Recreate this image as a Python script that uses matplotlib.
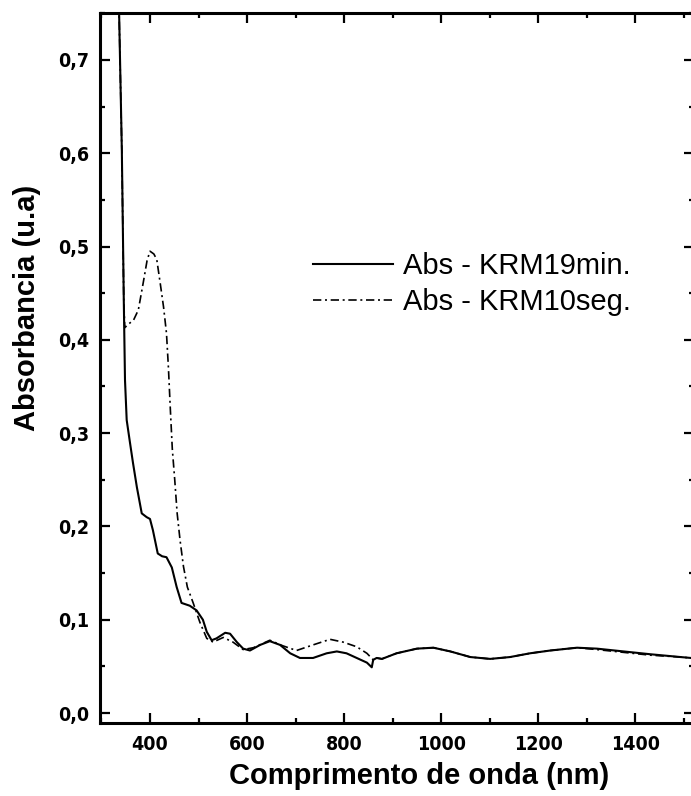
import matplotlib
matplotlib.use("Agg")
import matplotlib.pyplot as plt
from matplotlib import font_manager
from matplotlib.ticker import MultipleLocator, FixedLocator, FuncFormatter

# UV-Vis-NIR absorbance spectra of the two KRM samples
wl_19min = [336, 342, 346, 348.5, 352, 359, 365, 373, 383, 393, 400, 406, 416,
            425, 434, 445, 455, 465, 482, 496, 509, 517, 527, 537, 555, 565,
            579, 592, 606, 627, 647, 668, 689, 709, 736, 764, 785, 805, 826,
            847, 857, 860, 867, 878, 908, 950, 984, 1019, 1060, 1101, 1142,
            1183, 1225, 1280, 1321, 1376, 1431, 1493, 1515]
abs_19min = [0.760, 0.603, 0.443, 0.357, 0.314, 0.289, 0.268, 0.242, 0.214,
             0.210, 0.208, 0.196, 0.171, 0.168, 0.167, 0.156, 0.135, 0.118,
             0.115, 0.110, 0.100, 0.087, 0.078, 0.080, 0.086, 0.085, 0.076,
             0.069, 0.067, 0.073, 0.077, 0.073, 0.064, 0.059, 0.059, 0.064,
             0.066, 0.064, 0.059, 0.054, 0.049, 0.057, 0.059, 0.058, 0.064,
             0.069, 0.070, 0.066, 0.060, 0.058, 0.060, 0.064, 0.067, 0.070,
             0.069, 0.066, 0.063, 0.060, 0.059]

wl_10seg = [336, 342, 346, 348, 356, 366, 376, 386, 394, 400, 408, 414, 421,
            428, 434, 438, 442, 446, 451, 456, 462, 469, 477, 489, 503, 517,
            530, 551, 571, 592, 613, 647, 674, 702, 736, 771, 798, 826, 847,
            860, 867, 878, 908, 950, 984, 1019, 1060, 1101, 1142, 1183, 1225,
            1280, 1321, 1376, 1431, 1493, 1515]
abs_10seg = [0.760, 0.603, 0.443, 0.413, 0.417, 0.421, 0.432, 0.461, 0.485,
             0.495, 0.492, 0.486, 0.461, 0.435, 0.407, 0.370, 0.325, 0.283,
             0.250, 0.214, 0.185, 0.157, 0.135, 0.118, 0.097, 0.080, 0.076,
             0.081, 0.076, 0.068, 0.070, 0.078, 0.072, 0.067, 0.073, 0.079,
             0.076, 0.071, 0.064, 0.057, 0.059, 0.058, 0.064, 0.069, 0.070,
             0.066, 0.060, 0.058, 0.060, 0.064, 0.067, 0.070, 0.068, 0.065,
             0.062, 0.060, 0.059]

labels = ["Abs - KRM19min.", "Abs - KRM10seg."]
x_major = [400, 600, 800, 1000, 1200, 1400]
y_major = [0.0, 0.1, 0.2, 0.3, 0.4, 0.5, 0.6, 0.7]
x_title = "Comprimento de onda (nm)"
y_title = "Absorbancia (u.a)"


def tick_font():
    """Prefer a narrow bold sans for the tick numbers, else plain bold."""
    for f in font_manager.fontManager.ttflist:
        if f.name == "Liberation Sans Narrow" and f.weight in (700, "bold"):
            return font_manager.FontProperties(fname=f.fname, size=15)
    for f in font_manager.fontManager.ttflist:
        if f.name == "DejaVu Sans" and f.stretch == "condensed" and f.weight in (700, "bold") \
                and f.style == "normal":
            return font_manager.FontProperties(fname=f.fname, size=14)
    return font_manager.FontProperties(family="Liberation Sans", weight="bold", size=13.5)


W, H = 691, 796
fig = plt.figure(figsize=(W / 100, H / 100), dpi=100)
left, right, top, bottom = 100, 694, 13, 723
ax = fig.add_axes([left / W, 1 - bottom / H, (right - left) / W, (bottom - top) / H])

ax.plot(wl_19min, abs_19min, color="black", lw=1.5, label=labels[0])
ax.plot(wl_10seg, abs_10seg, color="black", lw=1.2,
        linestyle=(0, (5, 2.2, 1.2, 2.2)), label=labels[1])

ax.set_xlim(297, 1521)
ax.set_ylim(-0.0107, 0.7503)

ax.xaxis.set_major_locator(FixedLocator(x_major))
ax.xaxis.set_minor_locator(MultipleLocator(100))
ax.yaxis.set_major_locator(FixedLocator(y_major))
ax.yaxis.set_minor_locator(MultipleLocator(0.05))
ax.yaxis.set_major_formatter(FuncFormatter(lambda v, p: f"{v:.1f}".replace(".", ",")))

ax.tick_params(which="both", direction="in", top=True, right=True, width=1.6)
ax.tick_params(which="major", length=7.5)
ax.tick_params(which="minor", length=3.5)
ax.tick_params(axis="x", which="major", pad=9)
ax.tick_params(axis="y", which="major", pad=8)
tf = tick_font()
for lab in ax.get_xticklabels() + ax.get_yticklabels():
    lab.set_fontproperties(tf)

for s in ax.spines.values():
    s.set_linewidth(2.2)

ax.set_xlabel(x_title, family="Liberation Sans", weight="bold", fontsize=21, va="center")
ax.xaxis.set_label_coords((419 - left) / (right - left), (bottom - 776) / (bottom - top))
ax.set_ylabel(y_title, family="Liberation Sans", weight="bold", fontsize=21, va="center")
ax.yaxis.set_label_coords((27 - left) / (right - left), (bottom - 308) / (bottom - top))

leg = ax.legend(loc="upper left", bbox_to_anchor=(313 / W, 1 - 252 / H),
                bbox_transform=fig.transFigure, frameon=False, borderpad=0,
                borderaxespad=0, handlelength=2.74, handletextpad=0.34,
                labelspacing=0.29, prop={"family": "Liberation Sans", "size": 21})

fig.savefig("out.png", dpi=100)
